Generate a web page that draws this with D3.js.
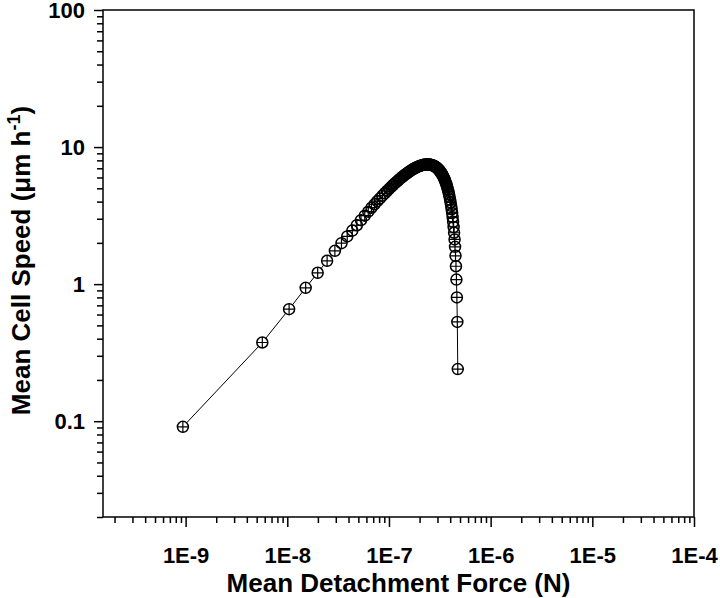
<!DOCTYPE html>
<html>
<head>
<meta charset="utf-8">
<script src="https://cdn.jsdelivr.net/npm/d3@7"></script>
<style>
  body { margin: 0; background: #fff; }
  text { font-family: "Liberation Sans", Arial, sans-serif; font-weight: bold; }
</style>
</head>
<body>
<div id="plot"></div>
<script>
// detachment force in nN (converted to N when plotted)
var forceNN = [
  0.94, 5.68, 10.42, 15.16, 19.90, 24.64, 29.38, 34.12, 38.86, 43.60,
  48.34, 53.08, 57.82, 62.56, 67.30, 72.04, 76.78, 81.52, 86.26, 91.00,
  95.74, 100.48, 105.22, 109.96, 114.70, 119.44, 124.18, 128.92, 133.66, 138.40,
  143.14, 147.88, 152.62, 157.36, 162.10, 166.84, 171.58, 176.32, 181.06, 185.80,
  190.54, 195.28, 200.02, 204.76, 209.50, 214.24, 218.98, 223.72, 228.46, 233.20,
  237.94, 242.68, 247.42, 252.16, 256.90, 261.64, 266.38, 271.12, 275.86, 280.60,
  285.34, 290.08, 294.82, 299.56, 304.30, 309.04, 313.78, 318.52, 323.26, 328.00,
  332.74, 337.48, 342.22, 346.96, 351.70, 356.44, 361.18, 365.92, 370.66, 375.40,
  380.14, 384.88, 389.62, 394.36, 399.10, 403.84, 408.58, 413.32, 418.06, 422.80,
  427.54, 432.28, 437.02, 441.76, 446.50, 451.24, 455.98, 460.72, 465.46, 470.20,
  474.94
];

// mean cell speed, um/h
var cellSpeed = [
  0.091, 0.375, 0.657, 0.94, 1.21, 1.48, 1.75, 1.99, 2.23, 2.46,
  2.69, 2.93, 3.16, 3.38, 3.61, 3.82, 4.03, 4.22, 4.42, 4.60,
  4.78, 4.96, 5.13, 5.29, 5.45, 5.60, 5.74, 5.88, 6.02, 6.14,
  6.27, 6.38, 6.49, 6.60, 6.70, 6.79, 6.88, 6.96, 7.03, 7.10,
  7.16, 7.22, 7.27, 7.32, 7.36, 7.39, 7.42, 7.44, 7.46, 7.47,
  7.47, 7.47, 7.46, 7.45, 7.43, 7.41, 7.38, 7.34, 7.30, 7.25,
  7.20, 7.14, 7.07, 7.00, 6.92, 6.84, 6.75, 6.65, 6.55, 6.45,
  6.33, 6.22, 6.09, 5.96, 5.82, 5.68, 5.53, 5.38, 5.22, 5.06,
  4.88, 4.71, 4.52, 4.34, 4.14, 3.94, 3.73, 3.52, 3.30, 3.08,
  2.85, 2.61, 2.37, 2.12, 1.87, 1.61, 1.35, 1.08, 0.80, 0.53,
  0.24
];

var xMajorTicks = [1e-9, 1e-8, 1e-7, 1e-6, 1e-5, 1e-4];
var xTickLabels = ["1E-9", "1E-8", "1E-7", "1E-6", "1E-5", "1E-4"];
var yMajorTicks = [0.1, 1, 10, 100];
var yTickLabels = ["0.1", "1", "10", "100"];

var margin = { top: 10, right: 26, bottom: 81, left: 103 };
var width = 720 - margin.left - margin.right;
var height = 598 - margin.top - margin.bottom;

var svg = d3.select("div#plot")
  .append("svg")
  .attr("width", 720)
  .attr("height", 598)
  .append("g")
  .attr("transform", "translate(" + margin.left + "," + margin.top + ")");

var x = d3.scaleLog().domain([1.54e-10, 1e-4]).range([0, width]);
var y = d3.scaleLog().domain([0.02, 100]).range([height, 0]);

// minor ticks = log ticks that are not whole decades
function notDecade(d) { return Math.abs(Math.log10(d) - Math.round(Math.log10(d))) > 1e-6; }
var xMinor = x.ticks().filter(notDecade);
var yMinor = y.ticks().filter(notDecade);

function styleAxis(g) {
  g.select(".domain").remove();
  g.selectAll("line").attr("stroke", "#000").attr("stroke-width", 1.5);
  g.selectAll("text").attr("font-size", 22).attr("fill", "#000")
    .style("font-family", '"Liberation Sans", Arial, sans-serif').style("font-weight", "bold");
}

// x axis
svg.append("g")
  .attr("transform", "translate(0," + height + ")")
  .call(d3.axisBottom(x).tickValues(xMinor).tickSize(6).tickFormat(""))
  .call(styleAxis);

svg.append("g")
  .attr("transform", "translate(0," + height + ")")
  .call(d3.axisBottom(x).tickValues(xMajorTicks).tickSize(10).tickPadding(20)
    .tickFormat(function(d, i) { return xTickLabels[i]; }))
  .call(styleAxis);

// y axis
svg.append("g")
  .call(d3.axisLeft(y).tickValues(yMinor).tickSize(6).tickFormat(""))
  .call(styleAxis);

svg.append("g")
  .call(d3.axisLeft(y).tickValues(yMajorTicks).tickSize(9).tickPadding(9)
    .tickFormat(function(d, i) { return yTickLabels[i]; }))
  .call(styleAxis);

// frame
svg.append("rect")
  .attr("x", 0)
  .attr("y", 0)
  .attr("width", width)
  .attr("height", height)
  .attr("fill", "none")
  .attr("stroke", "#000")
  .attr("stroke-width", 1.5);

var data = forceNN.map(function(f, i) { return { f: f * 1e-9, v: cellSpeed[i] }; });
var r = 5.5;

// connecting line, drawn only in the gaps between symbols
var segs = d3.pairs(data).map(function(p) {
  var x0 = x(p[0].f), y0 = y(p[0].v), x1 = x(p[1].f), y1 = y(p[1].v);
  var len = Math.hypot(x1 - x0, y1 - y0);
  return { x0: x0, y0: y0, x1: x1, y1: y1, len: len };
}).filter(function(s) { return s.len > 2 * r; });

svg.selectAll(".seg")
  .data(segs)
  .enter().append("line")
  .attr("class", "seg")
  .attr("x1", function(s) { return s.x0 + (s.x1 - s.x0) * r / s.len; })
  .attr("y1", function(s) { return s.y0 + (s.y1 - s.y0) * r / s.len; })
  .attr("x2", function(s) { return s.x1 - (s.x1 - s.x0) * r / s.len; })
  .attr("y2", function(s) { return s.y1 - (s.y1 - s.y0) * r / s.len; })
  .attr("stroke", "#000")
  .attr("stroke-width", 1);

// circle-plus markers
var marks = svg.selectAll(".mark")
  .data(data)
  .enter().append("g")
  .attr("class", "mark")
  .attr("transform", function(d) { return "translate(" + x(d.f) + "," + y(d.v) + ")"; });

marks.append("circle")
  .attr("r", r)
  .attr("fill", "none")
  .attr("stroke", "#000")
  .attr("stroke-width", 1.5);

marks.append("path")
  .attr("d", "M" + (-r) + ",0H" + r + "M0," + (-r) + "V" + r)
  .attr("stroke", "#000")
  .attr("stroke-width", 1.2);

// axis titles
svg.append("text")
  .attr("x", width / 2)
  .attr("y", 592 - margin.top)
  .attr("text-anchor", "middle")
  .attr("font-size", 26)
  .text("Mean Detachment Force (N)");

var yTitle = svg.append("text")
  .attr("transform", "translate(" + (30 - margin.left) + "," + (height / 2 - 3) + ") rotate(-90)")
  .attr("text-anchor", "middle")
  .attr("font-size", 26);
yTitle.append("tspan").text("Mean Cell Speed (\u03bcm h");
yTitle.append("tspan").attr("dy", -10).attr("font-size", 18).text("-1");
yTitle.append("tspan").attr("dy", 10).text(")");
</script>
</body>
</html>
